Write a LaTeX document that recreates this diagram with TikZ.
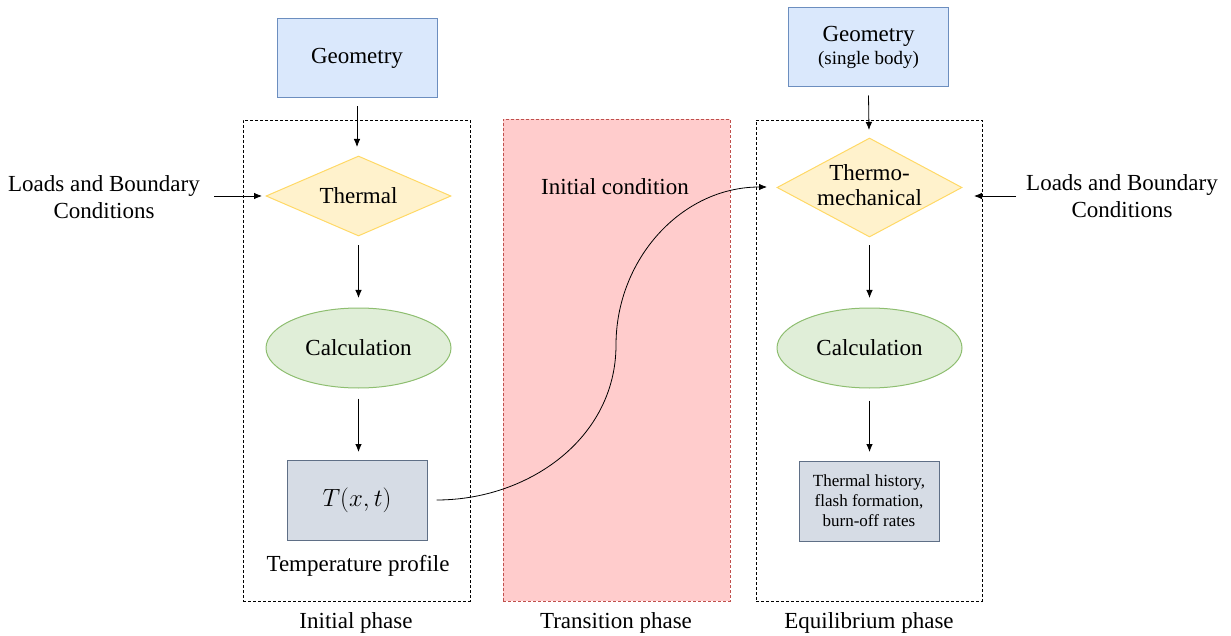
\documentclass[tikz,border=0pt]{standalone}
\usepackage{fontspec}
\setmainfont{Liberation Serif}
\usetikzlibrary{shapes.geometric,arrows.meta}
\definecolor{geofill}{HTML}{DAE8FC}
\definecolor{geodraw}{HTML}{6C8EBF}
\definecolor{diafill}{HTML}{FFF2CC}
\definecolor{diadraw}{HTML}{FFD966}
\definecolor{ellfill}{HTML}{E0EED8}
\definecolor{elldraw}{HTML}{8EBE70}
\definecolor{resfill}{HTML}{D6DCE5}
\definecolor{resdraw}{HTML}{5F6F86}
\definecolor{trfill}{HTML}{FFCCCC}
\definecolor{trdraw}{HTML}{C0504D}
\tikzset{
  big/.style={font=\rmfamily\fontsize{23}{27}\selectfont},
  small/.style={font=\rmfamily\fontsize{17}{20}\selectfont},
  geobox/.style={draw=geodraw,fill=geofill,line width=1pt,minimum width=160pt,minimum height=79pt,inner sep=0pt,big,align=center},
  diabox/.style={diamond,draw=diadraw,fill=diafill,line width=1pt,minimum width=185pt,minimum height=80pt,inner sep=0pt},
  ellbox/.style={ellipse,draw=elldraw,fill=ellfill,line width=1pt,minimum width=185pt,minimum height=80pt,inner sep=0pt,big},
  resbox/.style={draw=resdraw,fill=resfill,line width=1pt,minimum width=140pt,minimum height=80pt,inner sep=0pt,align=center},
  phase/.style={draw=black,dashed,dash pattern=on 3pt off 2pt,line width=0.8pt},
  txt/.style={big,align=center,inner sep=0pt},
  arr/.style={-{Latex[length=8pt,width=6.5pt]},line width=0.8pt},
}
\begin{document}
\begin{tikzpicture}[x=1pt,y=-1pt]
\useasboundingbox (0,0) rectangle (1231,636);
% phase frames
\node[phase,minimum width=227pt,minimum height=481pt,inner sep=0pt] (lframe) at (356.5,360.5) {};
\node[draw=trdraw,fill=trfill,dash pattern=on 3pt off 2pt,line width=0.8pt,minimum width=227pt,minimum height=482pt,inner sep=0pt] (mframe) at (616.5,360) {};
\node[phase,minimum width=226pt,minimum height=481pt,inner sep=0pt] (rframe) at (869,360.5) {};
% left column
\node[geobox] (lgeo) at (357,58.5) {Geometry};
\node[diabox] (ldia) at (358.5,196) {};
\node[txt] (ldiat) at (358.5,196) {Thermal};
\node[ellbox] (lell) at (358.5,348) {Calculation};
\node[resbox,font=\fontsize{24}{28}\selectfont] (lres) at (357,500) {$T(x,t)$};
\node[txt] (ltp) at (358,566) {Temperature profile};
\node[txt] (lload) at (104,197) {Loads and Boundary\\Conditions};
\node[txt] (lph) at (356,623) {Initial phase};
% middle
\node[txt] (ic) at (615,187) {Initial condition};
\node[txt] (mph) at (616,623) {Transition phase};
% right column
\node[geobox] (rgeo) at (868.5,47.5) {Geometry\\[-4pt]{\fontsize{19}{22}\selectfont(single body)}};
\node[diabox,minimum height=99pt] (rdia) at (869.5,187.5) {};
\node[txt,font=\rmfamily\fontsize{23}{25}\selectfont] (rdiat) at (869.5,185.5) {Thermo-\\mechanical};
\node[ellbox] (rell) at (869.5,348) {Calculation};
\node[resbox,small] (rres) at (869,501) {Thermal history,\\flash formation,\\burn-off rates};
\node[txt] (rload) at (1122,196) {Loads and Boundary\\Conditions};
\node[txt] (rph) at (869,623) {Equilibrium phase};
% connectors
\draw[arr] (lgeo.south) ++(0,8) coordinate (a1) -- (357,147) coordinate (a1e);
\draw[arr] (ldia.south) ++(0,9) coordinate (a2) -- (358.5,298) coordinate (a2e);
\draw[arr] (lell.south) ++(0,10) coordinate (a3) -- (358.5,452) coordinate (a3e);
\draw[arr] (214,196) coordinate (a4) -- (262,196) coordinate (a4e);
\draw[arr] (rgeo.south) ++(0,8) coordinate (b1) -- (869,130) coordinate (b1e);
\draw[arr] (rdia.south) ++(0,8) coordinate (b2) -- (869.5,298) coordinate (b2e);
\draw[arr] (rell.south) ++(0,12) coordinate (b3) -- (869.5,452) coordinate (b3e);
\draw[arr] (1016,196) coordinate (b4) -- (974,196) coordinate (b4e);
\coordinate (mid) at (616,345);
\draw[arr] (lres.east) ++(9,0) coordinate (c0) to[out=0,in=270] (mid) to[out=90,in=180] (767,187) coordinate (c1);
\end{tikzpicture}
\end{document}
